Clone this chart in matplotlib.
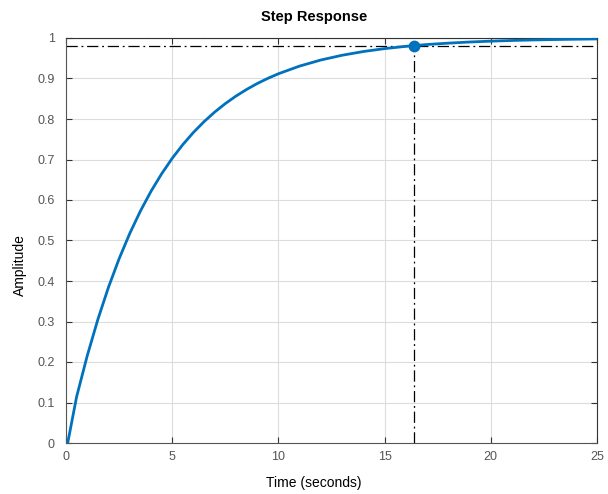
import matplotlib
matplotlib.use("Agg")
import matplotlib.pyplot as plt

plt.rcParams['font.family'] = ['Liberation Sans', 'DejaVu Sans']

# Step response values
time_s = [0, 0.08, 0.5, 1, 1.5, 2, 2.5, 3, 3.5, 4, 4.5, 5, 5.5, 6, 6.5, 7, 7.5, 8, 8.5,
          9, 9.5, 10, 11, 12, 13, 14, 15, 16, 17, 18, 19, 20, 21, 22, 23, 24, 25]
amplitude = [0.0, 0.0, 0.1143, 0.2155, 0.3051, 0.3846, 0.4549, 0.5172, 0.5724, 0.6213,
             0.6645, 0.7029, 0.7368, 0.7669, 0.7935, 0.8171, 0.8380, 0.8565, 0.8729,
             0.8875, 0.9003, 0.9117, 0.9307, 0.9457, 0.9574, 0.9666, 0.9738, 0.9794,
             0.9839, 0.9873, 0.9901, 0.9922, 0.9939, 0.9952, 0.9962, 0.9970, 0.9977]
settling_time = 16.4
settling_level = 0.98
steady_state = 1.0
x_ticks = [0, 5, 10, 15, 20, 25]
y_ticks = [0, 0.1, 0.2, 0.3, 0.4, 0.5, 0.6, 0.7, 0.8, 0.9, 1]
y_tick_labels = ['0', '0.1', '0.2', '0.3', '0.4', '0.5', '0.6', '0.7', '0.8', '0.9', '1']

fig = plt.figure(figsize=(6.08, 4.94), dpi=100)
ax = fig.add_axes([66/608, 51/494, 531/608, 405/494])

blue = '#0072BD'
dashdot = (0, (9, 3, 1.5, 3))
ax.plot(time_s, amplitude, color=blue, linewidth=2.0, zorder=3)
ax.axhline(steady_state, color='black', linestyle=':', linewidth=0.8, zorder=2)
ax.axhline(settling_level, color='black', linestyle=dashdot, linewidth=0.9, zorder=2)
ax.plot([settling_time, settling_time], [0, settling_level], color='black',
        linestyle=dashdot, linewidth=0.9, zorder=2)
ax.plot([settling_time], [settling_level], 'o', color=blue, markersize=7.5, zorder=4)

ax.set_xlim(0, 25)
ax.set_ylim(0, 1)
ax.set_xticks(x_ticks)
ax.set_yticks(y_ticks)
ax.set_yticklabels(y_tick_labels)
ax.grid(True, color='#dcdcdc', linewidth=0.8)
ax.set_axisbelow(True)
ax.tick_params(direction='in', length=4, colors='#333333', labelcolor='#555555',
               labelsize=9, top=True, right=True)
ax.tick_params(axis='x', pad=6)
ax.tick_params(axis='y', pad=8)
for side in ['left', 'bottom']:
    ax.spines[side].set_color('#555555')
for side in ['top', 'right']:
    ax.spines[side].set_color('#333333')
for s in ax.spines.values():
    s.set_linewidth(0.8)

ax.set_title('Step Response', fontsize=10.5, fontweight='bold',
             x=0.467, y=1 + 21/405, va='center', pad=0)
ax.set_xlabel('Time (seconds)', fontsize=10)
ax.xaxis.set_label_coords(0.467, -40/405)
ax.xaxis.label.set_va('center')
ax.set_ylabel('Amplitude', fontsize=10)
ax.yaxis.set_label_coords(-46/531, 0.44)
ax.yaxis.label.set_va('center')

fig.savefig('out.png', dpi=100)
